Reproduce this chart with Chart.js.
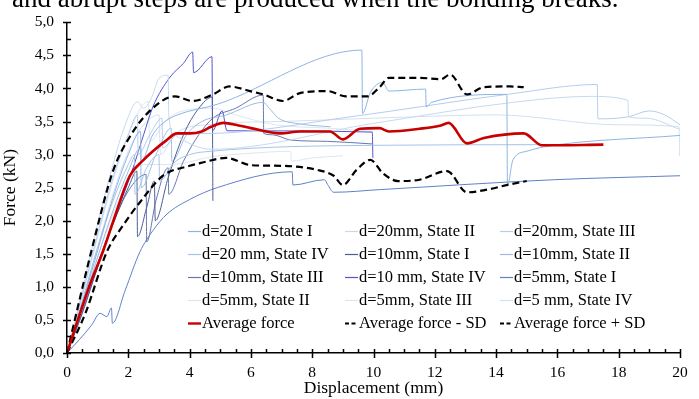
<!DOCTYPE html>
<html>
<head>
<meta charset="utf-8">
<script src="https://cdn.jsdelivr.net/npm/chart.js@4"></script>
<style>
  html, body { margin: 0; padding: 0; background: #fff; }
  #wrap { position: relative; width: 699px; height: 399px; overflow: hidden; }
</style>
</head>
<body>
<div id="wrap"><canvas id="forceChart" width="699" height="399"></canvas></div>
<script>
//============== DATA ===============
// [displacement mm, force kN]
const d20_I = [[0,0],[0.5,0.75],[1,1.55],[1.5,2.35],[2,3.0],[2.4,3.35],[2.42,2.9],[2.8,3.3],[3.2,3.5],[3.6,3.6],[4.9,3.76],[9.62,4.58],[9.64,3.62],[9.9,3.94],[10.3,4.09],[10.5,3.96],[11.7,3.99],[11.72,3.72],[11.9,3.79],[14.35,3.91],[14.37,2.53],[14.55,2.92],[15.0,3.05],[15.6,3.12],[20,3.29]];
const d20_II = [[0,0],[0.5,0.95],[1,1.95],[1.5,2.85],[1.9,3.45],[2.3,3.8],[2.5,3.7],[2.75,3.85],[3.0,4.15],[3.3,4.2],[3.32,3.6],[3.5,3.3],[4.7,3.08],[9.98,3.47],[14.55,3.79],[17.06,3.88],[18.3,3.82],[18.32,3.57],[18.9,3.55],[20,3.38]];
const d20_III = [[0,0],[0.5,0.88],[1,1.8],[1.5,2.65],[2.0,3.3],[2.3,3.6],[2.32,3.0],[2.7,3.3],[3.1,3.55],[3.12,3.1],[3.6,3.3],[4.76,3.32],[9.23,3.57],[14.36,3.91],[17.3,4.06],[17.32,3.54],[18.3,3.57],[19.0,3.66],[19.5,3.6],[20,3.45]];
const d20_IV = [[0,0],[0.5,0.78],[1,1.6],[1.5,2.3],[2,2.85],[2.2,3.0],[2.22,2.4],[2.6,2.8],[3.0,3.0],[3.02,2.6],[3.5,2.88],[4.0,3.0],[4.7,3.05],[10,3.14],[15.6,3.15]];
const d10_I = [[0,0],[0.5,0.6],[1,1.3],[1.5,1.95],[2.0,2.5],[2.28,2.75],[2.3,1.76],[2.6,2.2],[2.85,2.6],[2.88,2.0],[3.3,2.65],[3.8,3.3],[4.3,3.7],[4.74,3.87],[4.76,2.3]];
const d10_II = [[0,0],[0.5,0.7],[1,1.45],[1.5,2.15],[2,2.75],[2.4,3.1],[2.42,2.5],[2.9,3.0],[3.4,3.4],[3.42,2.9],[3.9,3.3],[4.4,3.5],[5.2,3.6],[6.4,3.79],[6.6,3.7],[6.9,3.55],[7.5,3.47],[8.6,3.42]];
const d10_III = [[0,0],[0.5,0.62],[1,1.3],[1.5,1.95],[2.0,2.45],[2.58,2.7],[2.6,1.68],[2.9,2.3],[3.3,2.8],[3.32,2.4],[3.8,2.9],[4.3,3.3],[4.76,3.55],[5.5,3.7],[6.4,3.9],[6.42,3.32],[6.7,3.3],[7.3,3.22],[8.5,3.2],[9.98,3.16]];
const d10_IV = [[0,0],[0.5,0.68],[1,1.35],[1.5,1.98],[2.1,2.72],[2.5,3.3],[2.8,3.72],[3.36,4.17],[3.8,4.38],[4.1,4.55],[4.13,4.24],[4.73,4.48],[4.75,3.36],[5.06,3.66],[5.22,3.36],[9.96,3.34],[9.98,2.95]];
const d5_I = [[0,0],[0.4,0.2],[0.8,0.42],[1.08,0.6],[1.3,0.55],[1.45,0.68],[1.48,0.45],[1.9,0.95],[2.38,1.53],[2.8,1.85],[3.26,2.1],[4.0,2.32],[4.9,2.5],[7.35,2.74],[7.37,2.54],[8.4,2.62],[8.5,2.55],[8.7,2.43],[10.2,2.47],[15.9,2.62],[20,2.68]];
const d5_II = [[0,0],[0.5,0.85],[1,1.75],[1.5,2.6],[2.0,3.3],[2.65,3.8],[2.7,3.2],[3.2,3.5],[3.7,3.65],[4.76,3.7],[5.5,3.6],[6.8,3.45],[8.5,3.4],[9.98,3.35]];
const d5_III = [[0,0],[0.5,0.7],[1,1.45],[1.5,2.1],[2,2.6],[2.5,2.85],[3.4,2.85],[4.76,2.97],[6,3.02],[7.3,3.05],[7.32,2.9],[8,2.95],[9,2.98]];
const d5_IV = [[0,0],[0.5,0.8],[1,1.6],[1.5,2.4],[2,3.05],[2.5,3.45],[3,3.6],[3.05,3.0],[3.5,3.3],[4.5,3.45],[7,3.5],[10,3.55],[14,3.6],[18,3.45],[19.97,3.42],[19.99,2.98]];

const avgX = [0,0.75,1.17,1.5,2.05,2.5,2.8,3.2,3.59,4.0,4.4,4.7,5.1,5.6,6.0,6.95,7.6,8.58,9.0,9.56,10.2,10.5,11.5,12.2,12.45,13.05,13.6,14.9,15.5,17.5];
const avgForce = [0,1.04,1.53,1.98,2.68,2.92,3.05,3.2,3.32,3.32,3.35,3.42,3.48,3.44,3.40,3.32,3.35,3.35,3.23,3.39,3.40,3.35,3.39,3.44,3.48,3.17,3.25,3.32,3.14,3.15];
const lowX = [0,0.6,1.3,1.83,2.38,3.13,4.0,4.34,5.2,6.0,7.05,8.15,8.7,9.0,9.45,9.9,10.3,10.8,11.5,12.4,13.05,13.6,14.45,15.0];
const lowForce = [0,0.6,1.53,1.93,2.28,2.68,2.83,2.87,2.95,2.84,2.83,2.77,2.68,2.54,2.77,2.92,2.72,2.6,2.62,2.75,2.43,2.46,2.55,2.6];
const highX = [0,0.8,1.5,2.05,2.7,3.52,4.1,4.76,5.3,5.97,6.4,7.05,7.6,8.5,9.1,9.8,10.2,10.5,11.5,12.2,12.5,13.05,13.6,14.45,14.9];
const highForce = [0,1.55,2.75,3.27,3.66,3.88,3.81,3.91,4.03,3.96,3.91,3.81,3.93,3.96,3.88,3.88,4.02,4.16,4.16,4.14,4.21,3.91,4.02,4.03,4.02];

const specimenLabels = ['d=20mm, State I','d=20mm, State II','d=20mm, State III','d=20 mm, State IV',
  'd=10mm, State I','d=10mm, State II','d=10mm, State III','d=10 mm, State IV',
  'd=5mm, State I','d=5mm, State II','d=5mm, State III','d=5 mm, State IV'];
const specimenColors = ['#8eb4e3','#c6d9f1','#b4cdee','#a5c3e8','#4a5d97','#9dbbe2','#6479ad','#5353cf','#5f80c4','#dce6f2','#dce6f2','#d3e0f1'];
const specimens = [d20_I,d20_II,d20_III,d20_IV,d10_I,d10_II,d10_III,d10_IV,d5_I,d5_II,d5_III,d5_IV];

const serif = "'Liberation Serif', 'Times New Roman', serif";

let datasets = specimens.map((pts, i) => ({
  label: specimenLabels[i],
  data: pts.map(p => ({x: p[0], y: p[1]})),
  borderColor: specimenColors[i],
  borderWidth: 1,
  order: 2
}));

const toPts = (xs, ys) => xs.map((x, i) => ({x: x, y: ys[i]}));

datasets.push({label: 'Average force', data: toPts(avgX, avgForce), borderColor: '#c80000', borderWidth: 2.6, order: 0});
datasets.push({label: 'Average force - SD', data: toPts(lowX, lowForce), borderColor: '#000', borderWidth: 2.2, borderDash: [7, 4], order: 1});
datasets.push({label: 'Average force + SD', data: toPts(highX, highForce), borderColor: '#000', borderWidth: 2.2, borderDash: [7, 4], order: 1});

//============== PLUGINS ===============
// crossing major ticks + inner minor ticks on both axes
const axisTicks = {
  id: 'axisTicks',
  afterDraw(chart) {
    const {ctx, scales: {x, y}} = chart;
    const x0 = x.getPixelForValue(0), y0 = y.getPixelForValue(0);
    ctx.save();
    ctx.strokeStyle = '#000';
    ctx.lineWidth = 1.5;
    ctx.beginPath();
    for (let v = 0; v <= 20.001; v += 0.5) {
      const px = Math.round(x.getPixelForValue(v)) + 0.5;
      if (Math.abs(v / 2 - Math.round(v / 2)) < 1e-6) {
        ctx.moveTo(px, y0 - 4); ctx.lineTo(px, y0 + 5);
      } else {
        ctx.moveTo(px, y0); ctx.lineTo(px, y0 - 4);
      }
    }
    for (let v = 0; v <= 5.001; v += 0.25) {
      const py = Math.round(y.getPixelForValue(v)) + 0.5;
      if (Math.abs(v * 2 - Math.round(v * 2)) < 1e-6) {
        ctx.moveTo(x0 - 4, py); ctx.lineTo(x0 + 4, py);
      } else {
        ctx.moveTo(x0, py); ctx.lineTo(x0 + 4, py);
      }
    }
    ctx.stroke();
    ctx.restore();
  }
};

// legend inside the plot: 3 columns, row by row
const innerLegend = {
  id: 'innerLegend',
  afterDraw(chart) {
    const ctx = chart.ctx;
    const colX = [188, 345, 500];
    const rowY = [231, 254, 277, 300, 323];
    ctx.save();
    ctx.font = '16.5px ' + serif;
    ctx.textBaseline = 'middle';
    chart.data.datasets.forEach((ds, i) => {
      const cx = colX[i % 3], cy = rowY[Math.floor(i / 3)];
      ctx.strokeStyle = ds.borderColor;
      ctx.lineWidth = ds.borderDash ? 2 : (ds.borderWidth > 2 ? 2.4 : 1.2);
      ctx.setLineDash(ds.borderDash ? [4, 2.5] : []);
      ctx.beginPath();
      ctx.moveTo(cx, cy + 0.5); ctx.lineTo(cx + 13, cy + 0.5);
      ctx.stroke();
      ctx.setLineDash([]);
      ctx.fillStyle = '#000';
      ctx.fillText(ds.label, cx + 14, cy + 1);
    });
    ctx.restore();
  }
};

// caption line running off the top edge
const topCaption = {
  id: 'topCaption',
  afterDraw(chart) {
    const ctx = chart.ctx;
    ctx.save();
    ctx.font = '27px ' + serif;
    ctx.fillStyle = '#000';
    ctx.textBaseline = 'alphabetic';
    ctx.fillText('and abrupt steps are produced when the bonding breaks.', 12, 7);
    ctx.restore();
  }
};

//============== CHART ===============
const myChart = document.getElementById('forceChart');

let lineChart = new Chart(myChart, {
  type: 'line',
  data: {datasets: datasets},
  plugins: [axisTicks, innerLegend, topCaption],
  options: {
    responsive: false,
    animation: false,
    layout: {padding: {top: 17, right: 19, left: 0, bottom: 0}},
    elements: {
      point: {radius: 0},
      line: {cubicInterpolationMode: 'monotone', fill: false}
    },
    plugins: {legend: {display: false}, tooltip: {enabled: false}},
    scales: {
      x: {
        type: 'linear',
        min: 0, max: 20,
        afterFit: s => { s.height = 46; },
        ticks: {stepSize: 2, color: '#000', padding: 11, font: {family: serif, size: 15.5}},
        grid: {display: false, drawTicks: false},
        border: {color: '#000', width: 1.5},
        title: {display: true, text: 'Displacement (mm)', color: '#000', font: {family: serif, size: 17.5}, padding: {top: 0, bottom: 0}}
      },
      y: {
        min: 0, max: 5,
        afterFit: s => { s.width = 67; },
        ticks: {stepSize: 0.5, color: '#000', padding: 13, font: {family: serif, size: 15.5},
          callback: v => v.toFixed(1).replace('.', ',')},
        grid: {display: false, drawTicks: false},
        border: {color: '#000', width: 1.5},
        title: {display: true, text: 'Force (kN)', color: '#000', font: {family: serif, size: 17.5}, padding: {top: 0, bottom: 10}}
      }
    }
  }
});
</script>
</body>
</html>
